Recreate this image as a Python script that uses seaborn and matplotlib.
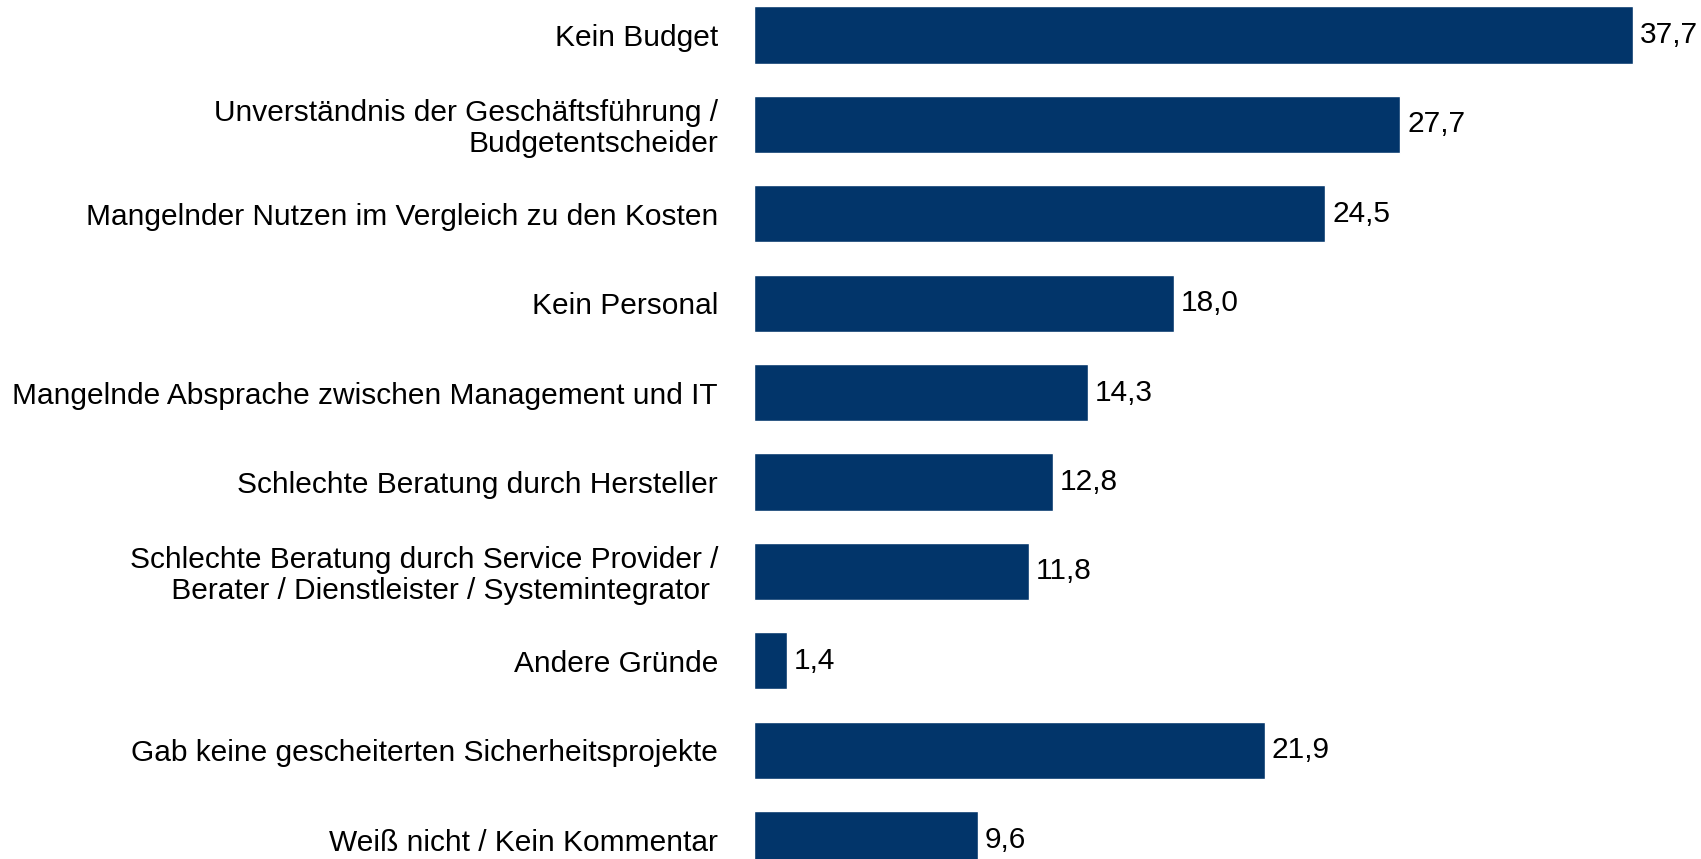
import pandas as pd
import matplotlib
matplotlib.use("Agg")
import matplotlib.pyplot as plt
import matplotlib.transforms as mtransforms
import seaborn as sns

# Data
categories = [
    "Kein Budget",
    "Unverständnis der Geschäftsführung /\nBudgetentscheider",
    "Mangelnder Nutzen im Vergleich zu den Kosten",
    "Kein Personal",
    "Mangelnde Absprache zwischen Management und IT",
    "Schlechte Beratung durch Hersteller",
    "Schlechte Beratung durch Service Provider /\n Berater / Dienstleister / Systemintegrator ",
    "Andere Gründe",
    "Gab keine gescheiterten Sicherheitsprojekte",
    "Weiß nicht / Kein Kommentar",
]
values = [37.7, 27.7, 24.5, 18.0, 14.3, 12.8, 11.8, 1.4, 21.9, 9.6]

df = pd.DataFrame({"Grund": categories, "Prozent": values})

sns.set_style("white")
plt.rcParams["font.family"] = ["Liberation Sans", "DejaVu Sans"]
plt.rcParams["text.color"] = "black"
plt.rcParams["ytick.color"] = "black"

fig = plt.figure(figsize=(17.01, 8.59), dpi=100)
ax = fig.add_axes([754 / 1701, 0, 1 - 754 / 1701, 1])

sns.barplot(data=df, y="Grund", x="Prozent", orient="h", color="#02356a",
            saturation=1, width=0.64, ax=ax)

ax.set_ylim(9.217, -0.392)
ax.set_xlim(0, 40.6)

labels = [f"{v:.1f}".replace(".", ",") for v in values]
texts = ax.bar_label(ax.containers[0], labels=labels, padding=5, fontsize=21.5,
                     color="black")
shift = mtransforms.ScaledTranslation(0, -3 / 100, fig.dpi_scale_trans)
for t in texts:
    t.set_transform(t.get_transform() + shift)

ax.set_xlabel("")
ax.set_ylabel("")
ax.set_xticks([])
ax.tick_params(axis="y", length=0, pad=26, labelsize=21.5, labelcolor="black")
for lab in ax.get_yticklabels():
    lab.set_multialignment("right")
    lab.set_linespacing(1.1)
sns.despine(ax=ax, left=True, bottom=True)

fig.savefig("out.png", dpi=100)
